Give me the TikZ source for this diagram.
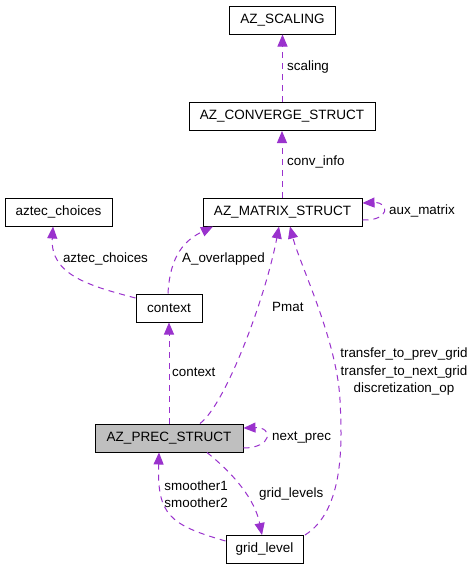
\documentclass[tikz,border=0pt]{standalone}
\usepackage{fontspec}
\setmainfont{Liberation Sans}
\usetikzlibrary{arrows.meta}
\definecolor{edgec}{HTML}{9A32CD}
\definecolor{boxgrey}{HTML}{BFBFBF}
\tikzset{
  box/.style={draw=black, line width=1pt, fill=white, inner sep=0pt, minimum height=28pt},
  edge/.style={draw=edgec, line width=1pt, dash pattern=on 6pt off 5pt, -{Triangle[length=12pt,width=10pt,fill=edgec]}},
  lbl/.style={inner sep=0pt, font=\fontsize{13.4}{17.5}\selectfont, align=center}
}
\begin{document}
\begin{tikzpicture}[x=1pt,y=-1pt, font=\fontsize{13.5}{16}\selectfont]
\useasboundingbox (0,0) rectangle (472,571);
\fill[white] (0,0) rectangle (472,571);
% nodes
\node[box, minimum width=106pt] (scal) at (282.5,20) {AZ\_SCALING};
\node[box, minimum width=186pt] (conv) at (282,116.5) {AZ\_CONVERGE\_STRUCT};
\node[box, minimum width=159pt] (mat) at (282.5,212) {AZ\_MATRIX\_STRUCT};
\node[box, minimum width=107pt] (azc) at (58.5,212) {aztec\_choices};
\node[box, minimum width=66pt] (ctx) at (169,308) {context};
\node[box, minimum width=148pt, fill=boxgrey] (prec) at (169,438) {AZ\_PREC\_STRUCT};
\node[box, minimum width=77pt] (grid) at (264.5,549.5) {grid\_level};
% coordinates
\coordinate (c1) at (340,400);
% edges
\draw[edge] (conv.north -| scal.south) -- (scal.south);
\draw[edge] (mat.north -| conv.south) -- (conv.south);
\draw[edge] (mat.east |- 0,220) .. controls (390,221) and (390,202) .. (mat.east |- 0,203);
\draw[edge] (ctx.west |- 0,298) .. controls (90,286) and (50,275) .. (azc.south -| 53,0);
\draw[edge] (ctx.north -| 168,0) .. controls (170,255) and (185,240) .. (mat.south -| 213,0);
\draw[edge] (prec.north -| ctx.south) -- (ctx.south);
\draw[edge] (prec.north -| 200,0) .. controls (225,405) and (265,300) .. (mat.south -| 279,0);
\draw[edge] (prec.east |- 0,448) .. controls (272,448) and (274,427) .. (prec.east |- 0,428);
\draw[edge] (prec.south -| 207,0) .. controls (235,475) and (255,500) .. (grid.north -| 262,0);
\draw[edge] (grid.west |- 0,541) .. controls (170,525) and (157,515) .. (prec.south -| 159,0);
\draw[edge] (grid.north -| 305,0) .. controls (345,510) and (342,440) .. (c1) .. controls (337,340) and (300,265) .. (mat.south -| 290,0);
% labels
\node[lbl, anchor=west] (l1) at (287,67) {scaling};
\node[lbl, anchor=west] (l2) at (287,162) {conv\_info};
\node[lbl, anchor=west] (l3) at (389,211) {aux\_matrix};
\node[lbl] (l4) at (105.5,259) {aztec\_choices};
\node[lbl] (l5) at (223.5,259) {A\_overlapped};
\node[lbl, anchor=west] (l6) at (272,307) {Pmat};
\node[lbl, anchor=west] (l7) at (172,372) {context};
\node[lbl, anchor=west] (l8) at (272,438) {next\_prec};
\node[lbl, anchor=west] (l9) at (259,494) {grid\_levels};
\node[lbl, anchor=east] (l10) at (228,494) {smoother1\\smoother2};
\node[lbl] (l11) at (404,372) {transfer\_to\_prev\_grid\\transfer\_to\_next\_grid\\discretization\_op};
\end{tikzpicture}
\end{document}
